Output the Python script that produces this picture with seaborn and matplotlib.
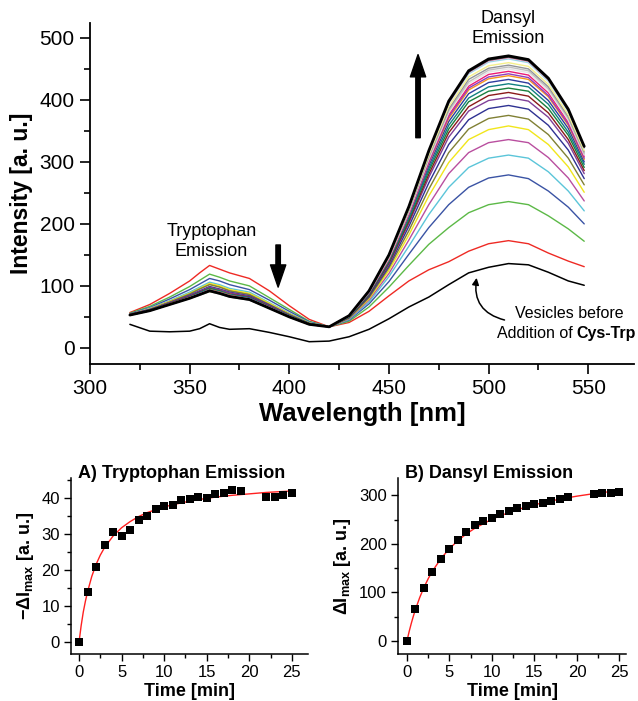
import matplotlib
matplotlib.use("Agg")
import matplotlib.pyplot as plt
import numpy as np
import pandas as pd
import seaborn as sns
from matplotlib.ticker import MultipleLocator


# emission spectra at these wavelengths (nm)
WAVELENGTH = [320, 330, 340, 350, 355, 360, 365, 370, 380, 390, 400, 410, 420,
              430, 440, 450, 460, 470, 480, 490, 500, 510, 520, 530, 540, 548]

# vesicles before addition of Cys-Trp
BASELINE = [38, 27, 26, 27, 31, 39, 33, 30, 31, 25, 18, 10, 11,
            18, 30, 47, 66, 82, 102, 121, 130, 136, 134, 122, 108, 101]

SCAN_TIME = [0, 1, 2, 3, 4, 5, 6, 7, 8, 9, 10, 11, 12, 13, 14, 15, 16, 17, 18, 19,
             22, 23, 24, 25]

SPECTRA = [
    [57, 70, 88, 108, 121, 133, 127, 121, 112, 92, 68, 46, 34, 41, 59, 84, 108, 126, 139, 156, 168, 173, 168, 153, 140, 131],  # 0
    [56, 67, 82, 99, 109, 119, 114, 108, 100, 81, 62, 43, 34, 43, 66, 98, 133, 167, 194, 218, 231, 236, 231, 213, 192, 172],  # 1
    [55, 65, 79, 94, 103, 112, 108, 102, 94, 77, 59, 42, 34, 45, 71, 107, 151, 194, 231, 259, 274, 279, 273, 253, 227, 200],  # 2
    [54, 64, 76, 90, 98, 106, 102, 96, 90, 73, 56, 41, 34, 46, 74, 115, 164, 215, 259, 291, 306, 311, 306, 284, 253, 221],  # 3
    [54, 63, 75, 87, 95, 103, 99, 93, 87, 71, 55, 40, 34, 47, 77, 120, 174, 231, 281, 315, 331, 336, 331, 307, 274, 237],  # 4
    [54, 63, 75, 88, 96, 104, 100, 94, 88, 72, 55, 40, 34, 48, 79, 125, 182, 245, 299, 336, 352, 358, 352, 328, 292, 251],  # 5
    [54, 62, 74, 87, 95, 102, 98, 92, 86, 70, 54, 40, 34, 48, 81, 129, 189, 256, 315, 353, 370, 375, 369, 344, 306, 263],  # 6
    [54, 62, 73, 85, 92, 99, 95, 90, 84, 69, 53, 39, 34, 49, 83, 132, 196, 266, 328, 368, 386, 391, 385, 359, 319, 273],  # 7
    [54, 62, 73, 84, 91, 98, 94, 89, 83, 68, 53, 39, 34, 50, 85, 135, 201, 275, 340, 382, 399, 404, 398, 372, 330, 281],  # 8
    [53, 61, 72, 83, 90, 96, 92, 87, 82, 67, 52, 39, 34, 50, 85, 137, 204, 280, 347, 389, 407, 412, 406, 379, 336, 286],  # 9
    [53, 61, 72, 82, 89, 96, 92, 86, 81, 66, 52, 39, 34, 50, 86, 139, 207, 285, 353, 397, 414, 419, 414, 386, 343, 291],  # 10
    [53, 61, 71, 82, 89, 95, 91, 86, 81, 66, 52, 39, 34, 50, 87, 140, 210, 289, 359, 403, 421, 426, 421, 393, 348, 296],  # 11
    [53, 60, 71, 81, 88, 94, 90, 85, 80, 65, 51, 38, 34, 51, 88, 142, 213, 294, 365, 410, 428, 433, 427, 399, 354, 300],  # 12
    [53, 60, 71, 81, 87, 94, 90, 85, 79, 65, 51, 38, 34, 51, 89, 143, 215, 298, 370, 416, 434, 439, 433, 405, 359, 304],  # 13
    [53, 60, 70, 81, 87, 93, 89, 84, 79, 65, 51, 38, 34, 51, 89, 144, 216, 299, 373, 419, 437, 442, 436, 407, 361, 306],  # 14
    [53, 60, 71, 81, 87, 93, 89, 84, 79, 65, 51, 38, 34, 51, 89, 144, 218, 302, 376, 422, 441, 446, 440, 411, 364, 309],  # 15
    [53, 60, 70, 80, 86, 92, 88, 83, 78, 64, 50, 38, 34, 51, 90, 145, 219, 304, 379, 426, 445, 450, 444, 415, 367, 311],  # 16
    [53, 60, 70, 80, 86, 92, 88, 83, 78, 64, 50, 38, 34, 51, 90, 146, 221, 306, 382, 429, 448, 453, 447, 418, 370, 313],  # 17
    [53, 60, 70, 80, 85, 91, 87, 82, 77, 64, 50, 38, 34, 51, 90, 147, 222, 309, 385, 433, 451, 456, 450, 421, 373, 316],  # 18
    [53, 60, 70, 80, 86, 91, 88, 83, 78, 64, 50, 38, 34, 52, 91, 148, 224, 311, 389, 437, 455, 460, 454, 425, 376, 318],  # 19
    [53, 60, 70, 81, 87, 93, 89, 84, 79, 65, 51, 38, 34, 52, 91, 149, 226, 315, 394, 442, 461, 466, 460, 430, 381, 322],  # 22
    [53, 60, 70, 81, 87, 93, 89, 84, 79, 65, 50, 38, 34, 52, 92, 149, 227, 316, 395, 444, 463, 468, 462, 432, 383, 323],  # 23
    [53, 60, 70, 80, 86, 93, 88, 83, 78, 64, 50, 38, 34, 52, 92, 150, 227, 317, 396, 445, 464, 469, 463, 433, 383, 324],  # 24
    [53, 60, 70, 80, 86, 92, 88, 83, 78, 64, 50, 38, 34, 52, 92, 150, 228, 318, 398, 447, 466, 471, 465, 435, 385, 325],  # 25
]

SPECTRA_COLORS = ["#ee2a24", "#5cb947", "#3a53a4", "#5bc5d9", "#b94f9f", "#f1e61c",
                  "#808034", "#2e3192", "#7f3f98", "#8b1a1a", "#1a7f3c", "#118080",
                  "#2e3c9e", "#f7941d", "#8c3fc0", "#ec1c74", "#e6e6e6", "#c0c0c0",
                  "#939598", "#f5f08c", "#9ad9ea", "#f49ac1", "#404040", "#000000"]

# kinetics of the emission maxima
TRP_DROP = [0, 14, 21, 27, 30.5, 29.5, 31.2, 34, 35, 37, 37.8, 38, 39.5, 39.8, 40.3, 40,
            41.2, 41.4, 42.2, 42, 40.3, 40.4, 41, 41.5]
DANSYL_RISE = [0, 65, 109, 142, 168, 190, 208, 224, 238, 246, 254, 261, 268, 274, 277, 281,
               285, 288, 292, 296, 302, 304, 305, 307]

FIT_TIME = [0, 0.25, 0.5, 0.75, 1, 1.5, 2, 2.5, 3, 4, 5, 6, 7, 8, 10, 12, 14, 16, 18, 20, 22, 25]
TRP_FIT = [0, 4.6, 8.4, 11.4, 14.0, 18.3, 21.6, 24.2, 26.3, 29.5, 31.8, 33.5, 34.9, 36.0,
           37.6, 38.7, 39.6, 40.3, 40.8, 41.2, 41.6, 42.0]
DANSYL_FIT = [0, 18.7, 35.5, 50.8, 64.8, 89.3, 110.2, 128.1, 143.8, 169.6, 190.1, 206.7,
              220.5, 232.2, 250.7, 264.7, 275.8, 284.7, 292.1, 298.2, 303.4, 310.0]


sns.set_theme(style="ticks")
plt.rcParams["font.family"] = ["Liberation Sans", "DejaVu Sans"]
plt.rcParams.update({
    "axes.edgecolor": "black",
    "axes.labelcolor": "black",
    "text.color": "black",
    "xtick.color": "black",
    "ytick.color": "black",
    "xtick.direction": "out",
    "ytick.direction": "out",
    "mathtext.default": "regular",
})

fig = plt.figure(figsize=(6.38, 7.01), dpi=100)

# ---- top panel: spectra ----
ax = fig.add_axes([0.1411, 0.4807, 0.8527, 0.4865])

rows = []
for t, vals in zip(SCAN_TIME, SPECTRA):
    for w, v in zip(WAVELENGTH, vals):
        rows.append({"Wavelength": w, "Intensity": v, "Time": t})
spec = pd.DataFrame(rows)
last = SCAN_TIME[-1]
palette = dict(zip(SCAN_TIME, SPECTRA_COLORS))

sns.lineplot(x=WAVELENGTH, y=BASELINE, color="black", linewidth=1.1, ax=ax)
sns.lineplot(data=spec[spec["Time"] != last], x="Wavelength", y="Intensity", hue="Time",
             palette=palette, legend=False, linewidth=1.0, estimator=None, ax=ax)
sns.lineplot(data=spec[spec["Time"] == last], x="Wavelength", y="Intensity",
             color="black", linewidth=2.0, estimator=None, ax=ax)

ax.set_xlim(300, 573)
ax.set_ylim(-26, 524)
ax.xaxis.set_major_locator(MultipleLocator(50))
ax.xaxis.set_minor_locator(MultipleLocator(25))
ax.yaxis.set_major_locator(MultipleLocator(100))
ax.yaxis.set_minor_locator(MultipleLocator(50))
ax.tick_params(which="major", length=7, width=1.2, labelsize=15, pad=4)
ax.tick_params(which="minor", length=4, width=1.2)
sns.despine(ax=ax)
for s in ["left", "bottom"]:
    ax.spines[s].set_linewidth(1.3)
ax.set_xlabel("Wavelength [nm]", fontsize=18.5, fontweight="bold", labelpad=3)
ax.set_ylabel("Intensity [a. u.]", fontsize=16.5, fontweight="bold", labelpad=5)

ax.text(361, 172, "Tryptophan\nEmission", ha="center", va="center", fontsize=13)
ax.text(510, 515, "Dansyl\nEmission", ha="center", va="center", fontsize=13)

arrow_style = "simple,head_length=0.8,head_width=0.55,tail_width=0.16"
ax.annotate("", xy=(394.4, 98), xytext=(394.4, 166),
            arrowprops=dict(arrowstyle=arrow_style, fc="black", ec="black",
                            mutation_scale=20, shrinkA=0, shrinkB=0))
ax.annotate("", xy=(464.6, 473), xytext=(464.6, 339),
            arrowprops=dict(arrowstyle=arrow_style, fc="black", ec="black",
                            mutation_scale=20, shrinkA=0, shrinkB=0))

ax.annotate("", xy=(494, 113), xytext=(508, 45),
            arrowprops=dict(arrowstyle="-|>", connectionstyle="arc3,rad=-0.45",
                            color="black", lw=1.1, mutation_scale=10,
                            shrinkA=0, shrinkB=0))
ax.text(540.3, 55, "Vesicles before", ha="center", va="center", fontsize=11.5)
ax.text(544.3, 24, "Addition of ", ha="right", va="center", fontsize=11.5)
ax.text(544.3, 24, "Cys-Trp", ha="left", va="center", fontsize=11.5, fontweight="bold")

# ---- bottom panels: kinetics ----
axA = fig.add_axes([0.1113, 0.0670, 0.3715, 0.2511])
axB = fig.add_axes([0.6238, 0.0670, 0.3578, 0.2511])

panels = [
    (axA, TRP_DROP, TRP_FIT, "A) Tryptophan Emission", "−ΔI$_{max}$ [a. u.]",
     (-0.94, 26.9), (-3.25, 45.6), 10, 5),
    (axB, DANSYL_RISE, DANSYL_FIT, "B) Dansyl Emission", "ΔI$_{max}$ [a. u.]",
     (-1.06, 25.8), (-27.4, 335.6), 100, 50),
]

for a, pts, fit, title, ylabel, xlim, ylim, ymaj, ymin in panels:
    sns.lineplot(x=FIT_TIME, y=fit, color="#ff2020", linewidth=1.0, ax=a)
    sns.scatterplot(x=SCAN_TIME, y=pts, marker="s", color="black", s=34,
                    edgecolor="black", linewidth=0, ax=a, zorder=3)
    a.set_xlim(*xlim)
    a.set_ylim(*ylim)
    a.xaxis.set_major_locator(MultipleLocator(5))
    a.xaxis.set_minor_locator(MultipleLocator(2.5))
    a.yaxis.set_major_locator(MultipleLocator(ymaj))
    a.yaxis.set_minor_locator(MultipleLocator(ymin))
    a.tick_params(which="major", length=5, width=1.0, labelsize=12, pad=3)
    a.tick_params(which="minor", length=3, width=1.0)
    sns.despine(ax=a)
    for s in ["left", "bottom"]:
        a.spines[s].set_linewidth(1.1)
    a.set_xlabel("Time [min]", fontsize=13, fontweight="bold", labelpad=2)
    a.set_ylabel(ylabel, fontsize=13, fontweight="bold", labelpad=4)
    a.text(0.03, 1.0, title, transform=a.transAxes, ha="left", va="baseline",
           fontsize=13, fontweight="bold")

fig.savefig("out.png", dpi=100)
